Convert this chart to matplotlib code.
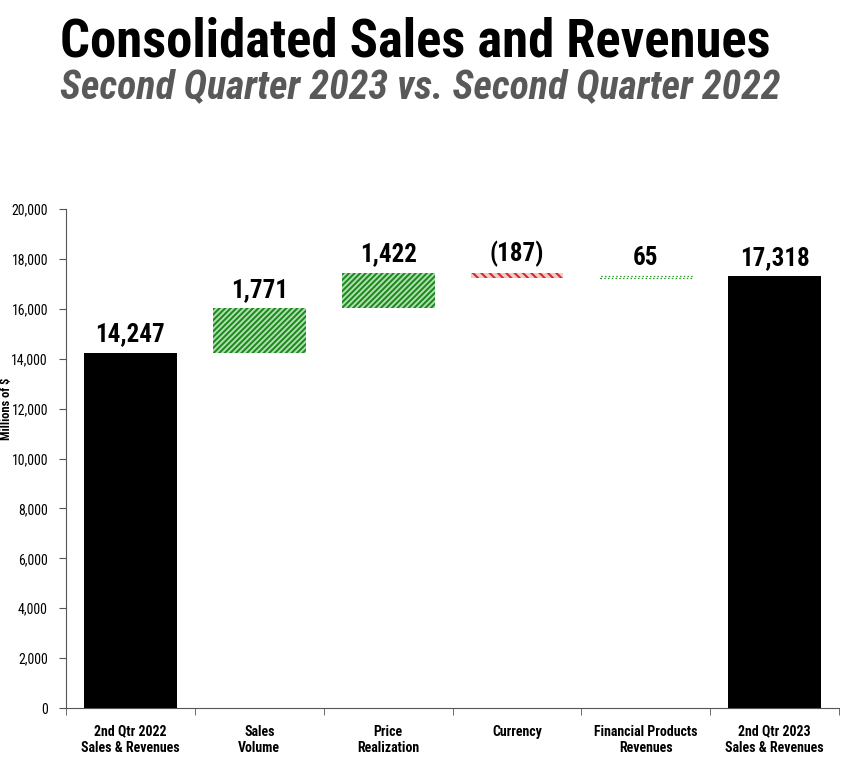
import numpy as np
import matplotlib.pyplot as plt
import matplotlib as mpl
from matplotlib import font_manager

# waterfall data (millions of $)
categories = ['2nd Qtr 2022\nSales & Revenues', 'Sales\nVolume', 'Price\nRealization',
              'Currency', 'Financial Products\nRevenues', '2nd Qtr 2023\nSales & Revenues']
changes = [14247, 1771, 1422, -187, 65, 17318]
labels = ['14,247', '1,771', '1,422', '(187)', '65', '17,318']
kinds = ['total', 'up', 'up', 'down', 'up', 'total']

# prefer a narrow font with a bold face (the original uses Arial Narrow Bold)
def is_bold(f):
    return f.weight in (700, 'bold') or (isinstance(f.weight, int) and f.weight >= 700)

narrow = sorted(set(f.name for f in font_manager.fontManager.ttflist
                    if ('Narrow' in f.name or 'Condensed' in f.name) and is_bold(f)))
pref = [n for n in ['Liberation Sans Narrow', 'Roboto Condensed', 'Open Sans Condensed',
                    'Noto Sans Condensed'] if n in narrow]
fam = (pref or narrow)[:1] + ['Liberation Sans', 'DejaVu Sans']
mpl.rcParams['font.family'] = fam
mpl.rcParams['hatch.linewidth'] = 1.5

fig = plt.figure(figsize=(8.52, 7.68), dpi=100)
ax = fig.add_axes([0.0775, 0.0781, 0.9075, 0.6497])

# compute bottoms of the floating bars
bottoms = []
running = 0
for v, k in zip(changes, kinds):
    if k == 'total':
        bottoms.append(0)
        running = v
    elif v >= 0:
        bottoms.append(running)
        running += v
    else:
        running += v
        bottoms.append(running)
heights = [abs(v) for v in changes]

x = np.arange(len(categories))
w = 0.72
for i, k in enumerate(kinds):
    if k == 'total':
        ax.bar(x[i], heights[i], w, bottom=bottoms[i], color='black')
    elif k == 'down':
        ax.bar(x[i], heights[i], w, bottom=bottoms[i], facecolor='#f6c9c9',
               edgecolor='#d42a2a', hatch='\\\\\\\\', linewidth=0)
    elif heights[i] < 200:
        # tiny bar: only a dotted green line shows
        ax.bar(x[i], heights[i], w, bottom=bottoms[i], facecolor='none',
               edgecolor='#2a9a2a', linestyle=(0, (1.2, 1.8)), linewidth=0.9)
    else:
        ax.bar(x[i], heights[i], w, bottom=bottoms[i], facecolor='#b4e2b4',
               edgecolor='#1f8a1f', hatch='//////', linewidth=0)
    ax.text(x[i], bottoms[i] + heights[i] + 250, labels[i], ha='center', va='bottom',
            fontsize=18, fontweight='bold')

ax.set_xlim(-0.5, 5.5)
ax.set_ylim(0, 20000)
ax.set_yticks(np.arange(0, 20001, 2000))
ax.set_yticklabels(['{:,}'.format(t) for t in range(0, 20001, 2000)], fontsize=10)
ax.set_xticks(x)
ax.set_xticklabels(categories, fontsize=10, fontweight='bold')
ax.set_xticks(np.arange(-0.5, 6, 1), minor=True)
ax.tick_params(axis='x', which='major', length=0, pad=12)
ax.tick_params(axis='x', which='minor', length=5, color='#555555')
ax.tick_params(axis='y', length=5, color='#555555', pad=8)
for s in ['top', 'right']:
    ax.spines[s].set_visible(False)
for s in ['left', 'bottom']:
    ax.spines[s].set_color('#555555')
ax.set_ylabel('Millions of $', fontsize=9, fontweight='bold')
ax.yaxis.set_label_coords(-0.068, 0.6)

t1 = fig.text(0.07, 0.927, 'Consolidated Sales and Revenues', fontsize=40,
              fontweight='bold', ha='left', va='baseline')
t2 = fig.text(0.07, 0.872, 'Second Quarter 2023 vs. Second Quarter 2022', fontsize=28,
              fontweight='bold', fontstyle='italic', color='#595959', ha='left', va='baseline')

# size titles to the width they take in the original
r = fig.canvas.get_renderer()
for t, target in [(t1, 710), (t2, 720)]:
    wpx = t.get_window_extent(renderer=r).width
    t.set_fontsize(t.get_fontsize() * target / wpx)

fig.savefig('out.png', dpi=100)
